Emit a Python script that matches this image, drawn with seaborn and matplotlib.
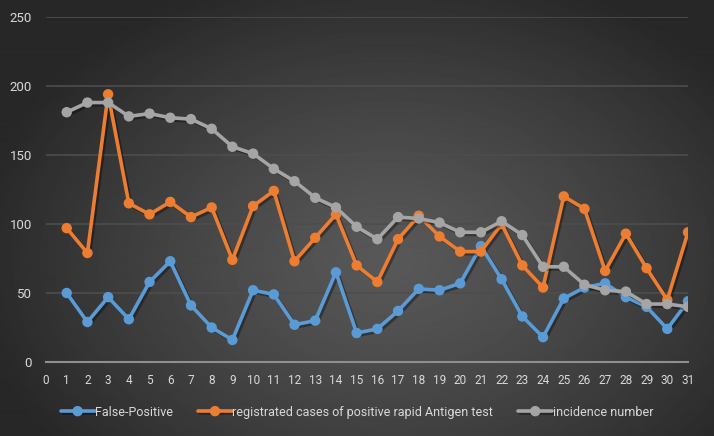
import numpy as np
import pandas as pd
import seaborn as sns
import matplotlib.pyplot as plt
import matplotlib.patheffects as pe

#%% data
days = list(range(1, 32))
false_positive = [50, 29, 47, 31, 58, 73, 41, 25, 16, 52, 49, 27, 30, 65, 21, 24,
                  37, 53, 52, 57, 84, 60, 33, 18, 46, 54, 57, 47, 40, 24, 44]
rapid_antigen = [97, 79, 194, 115, 107, 116, 105, 112, 74, 113, 124, 73, 90, 107, 70, 58,
                 89, 106, 91, 80, 80, 100, 70, 54, 120, 111, 66, 93, 68, 45, 94]
incidence = [181, 188, 188, 178, 180, 177, 176, 169, 156, 151, 140, 131, 119, 112, 98, 89,
             105, 104, 101, 94, 94, 102, 92, 69, 69, 56, 52, 51, 42, 42, 40]

series = [("False-Positive", false_positive, "#5B9BD5"),
          ("registrated cases of positive rapid Antigen test", rapid_antigen, "#ED7D31"),
          ("incidence number", incidence, "#A5A5A5")]

#%% figure + radial background
sns.set_style("white")
plt.rcParams['font.family'] = ['Roboto', 'DejaVu Sans']

fig = plt.figure(figsize=(7.14, 4.36), dpi=100)
bg = fig.add_axes([0, 0, 1, 1], zorder=-10)
yy, xx = np.mgrid[0:436, 0:714]
r = np.sqrt(((xx - 390) / 420.0) ** 2 + ((yy - 260) / 300.0) ** 2)
shade = 0.345 - 0.19 * np.clip(r, 0, 1) ** 1.3
bg.imshow(shade, cmap='gray', vmin=0, vmax=1, aspect='auto', interpolation='bilinear')
bg.axis('off')

ax = fig.add_axes([46 / 714, 74 / 436, 642 / 714, 345 / 436])
ax.set_facecolor('none')

for name, vals, col in series:
    df = pd.DataFrame({'day': days, 'value': vals})
    sns.lineplot(data=df, x='day', y='value', ax=ax, color=col, lw=2.6,
                 marker='o', markersize=7.5, markeredgewidth=0, label=name)
for line in ax.get_lines():
    line.set_path_effects([pe.SimpleLineShadow(offset=(1.5, -1.5), shadow_color='black', alpha=0.35),
                           pe.Normal()])

ax.set_xlim(0, 31)
ax.set_ylim(0, 250)
ax.set_xticks(range(0, 32))
ax.set_yticks(range(0, 251, 50))
ax.set_xlabel('')
ax.set_ylabel('')
ax.grid(axis='y', color='#4d4d4d', lw=1.2)
ax.grid(axis='x', visible=False)
for s in ['top', 'right', 'left']:
    ax.spines[s].set_visible(False)
ax.spines['bottom'].set_color('#8f8f8f')
ax.spines['bottom'].set_linewidth(1.5)
ax.tick_params(axis='x', length=0, pad=8.5, labelsize=8.5, labelcolor='#d9d9d9')
ax.tick_params(axis='y', length=0, pad=10, labelsize=9.5, labelcolor='#d9d9d9')

ax.get_legend().remove()
handles, labels = ax.get_legend_handles_labels()
leg = fig.legend(handles, labels, loc='center', bbox_to_anchor=(0.5, 0.055), ncol=3,
                 frameon=False, fontsize=9, labelcolor='#d9d9d9', handlelength=2.7,
                 handletextpad=0.05, columnspacing=2.0)

fig.savefig('out.png', dpi=100)
